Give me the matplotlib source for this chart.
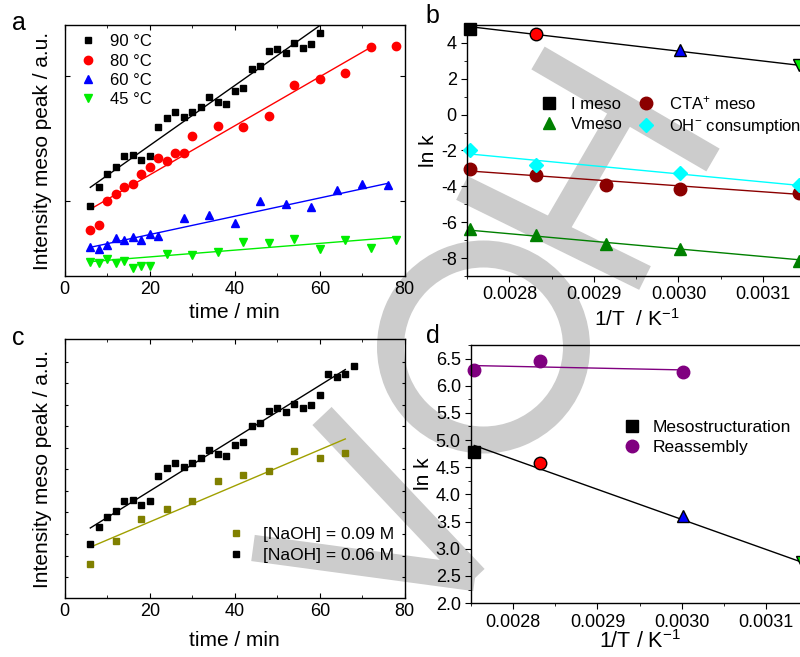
import matplotlib
matplotlib.use("Agg")
import matplotlib.pyplot as plt
from matplotlib.patches import Annulus
import numpy as np

plt.rcParams.update({
    'font.family': ['Liberation Sans', 'DejaVu Sans'],
    'font.size': 13,
    'axes.linewidth': 1.0,
    'mathtext.default': 'regular',
})

# ---------- panel a : intensity vs time at four temperatures ----------
t90 = [6, 8, 10, 12, 14, 16, 18, 20, 22, 24, 26, 28, 30, 32, 34, 36, 38, 40,
       42, 44, 46, 48, 50, 52, 54, 56, 58, 60]
i90 = [27.9, 35.3, 40.5, 43.3, 47.8, 48.2, 46.0, 47.9, 59.4, 62.9, 65.3, 63.5,
       65.3, 67.5, 71.3, 69.3, 68.7, 73.7, 75.0, 82.3, 83.8, 89.5, 90.4, 89.0,
       92.7, 91.0, 92.4, 96.8]
t80 = [6, 8, 10, 12, 14, 16, 18, 20, 22, 24, 26, 28, 30, 36, 42, 48, 54, 60,
       66, 72, 78]
i80 = [18.3, 20.2, 29.7, 32.8, 35.5, 36.5, 40.6, 43.4, 47.1, 45.8, 49.1, 49.0,
       55.6, 59.9, 59.5, 63.6, 76.0, 78.4, 80.7, 91.1, 91.8]
t60 = [6, 8, 10, 12, 14, 16, 18, 20, 22, 28, 34, 40, 46, 52, 58, 64, 70, 76]
i60 = [11.4, 10.6, 12.5, 15.3, 14.3, 15.4, 14.3, 16.6, 15.9, 23.1, 24.2, 21.1,
       30.0, 28.6, 27.4, 34.4, 36.5, 36.3]
t45 = [6, 8, 10, 12, 14, 16, 18, 20, 24, 30, 36, 42, 48, 54, 60, 66, 72, 78]
i45 = [5.7, 5.3, 6.9, 5.3, 5.8, 3.3, 4.1, 4.1, 8.9, 8.5, 9.6, 13.5, 13.3, 14.6,
       10.6, 14.3, 11.0, 14.5]
# fitted lines (start/end)
fit90_t, fit90_i = [6, 60.2], [35.3, 100.0]
fit80_t, fit80_i = [6, 72], [26.6, 91.1]
fit60_t, fit60_i = [6, 76], [11.4, 36.9]
fit45_t, fit45_i = [6, 78], [5.7, 15.4]

# ---------- panel b : Arrhenius plots ----------
invT_all = [0.0027537, 0.0028317, 0.0029142, 0.0030017, 0.0031432]
invT_4 = [0.0027537, 0.0028317, 0.0030017, 0.0031432]
lnk_imeso = [4.8, 4.5, 3.6, 2.75]
lnk_cta = [-3.04, -3.36, -3.91, -4.16, -4.4]
lnk_oh = [-1.98, -2.8, -3.28, -3.9]
lnk_oh_x = [0.0027537, 0.0028317, 0.0030017, 0.0031432]
lnk_vmeso = [-6.4, -6.7, -7.2, -7.5, -8.15]
fitb_x = [0.0027537, 0.0031432]
fitb_imeso = [4.9, 2.75]
fitb_cta = [-3.15, -4.45]
fitb_oh = [-2.2, -3.95]
fitb_vmeso = [-6.45, -8.1]

# ---------- panel c : two NaOH concentrations ----------
t06 = [6, 8, 10, 12, 14, 16, 18, 20, 22, 24, 26, 28, 30, 32, 34, 36, 38, 40,
       42, 44, 46, 48, 50, 52, 54, 56, 58, 60, 62, 64, 66, 68]
i06 = [20.8, 27.2, 31.4, 33.7, 37.5, 37.8, 35.9, 37.6, 47.1, 50.2, 52.1, 50.6,
       52.1, 53.9, 57.0, 55.5, 54.8, 59.1, 60.2, 66.3, 67.4, 72.3, 73.2, 71.8,
       74.9, 73.4, 74.6, 78.2, 86.4, 85.3, 86.6, 89.4]
t09 = [6, 12, 18, 24, 30, 36, 42, 48, 54, 60, 66]
i09 = [13.1, 21.9, 30.4, 34.2, 37.5, 45.2, 47.4, 48.9, 56.6, 53.9, 56.1]
fit06_t, fit06_i = [6, 66], [27.0, 88.2]
fit09_t, fit09_i = [6, 66], [19.6, 61.4]

# ---------- panel d : mesostructuration vs reassembly ----------
invT_d = [0.0027537, 0.0028317, 0.0030017, 0.0031432]
lnk_meso_d = [4.78, 4.58, 3.6, 2.75]
lnk_reas = [6.28, 6.45, 6.25]
fitd_meso = [4.9, 2.75]
fitd_reas_x = [0.0027537, 0.0030017]
fitd_reas = [6.37, 6.29]

# publisher watermark behind the panels (pixel strokes, not data)
wm_strokes = [[(538, 58), (713, 160)], [(462, 188), (645, 278)],
              [(625, 109), (553, 233)], [(322, 416), (475, 578)],
              [(253, 548), (475, 578)]]
wm_ring = (483.5, 347, 106.5)
wm_color = '#cccccc'

fig = plt.figure(figsize=(8, 6.57), dpi=100)

bg = fig.add_axes([0, 0, 1, 1], zorder=-1)
bg.set_xlim(0, 800)
bg.set_ylim(657, 0)
bg.axis('off')
for (x0, y0), (x1, y1) in wm_strokes:
    bg.plot([x0, x1], [y0, y1], color=wm_color, lw=19, solid_capstyle='butt')
bg.add_patch(Annulus(wm_ring[:2], wm_ring[2], 27, color=wm_color, lw=0))

ax_a = fig.add_axes([0.081, 0.580, 0.425, 0.382])
ax_b = fig.add_axes([0.584, 0.580, 0.4225, 0.382])
ax_c = fig.add_axes([0.081, 0.090, 0.425, 0.394])
ax_d = fig.add_axes([0.589, 0.082, 0.421, 0.393])
for ax in (ax_a, ax_b, ax_c, ax_d):
    ax.set_facecolor('none')

leg_kw = dict(frameon=False, borderpad=0, borderaxespad=0, handlelength=1.0)

# panel a
ms = 5
ax_a.plot(fit90_t, fit90_i, color='black', lw=1)
ax_a.plot(fit80_t, fit80_i, color='red', lw=1)
ax_a.plot(fit60_t, fit60_i, color='blue', lw=1)
ax_a.plot(fit45_t, fit45_i, color='#00ee00', lw=1)
ax_a.plot(t90, i90, 's', color='black', ms=ms, label='90 °C')
ax_a.plot(t80, i80, 'o', color='red', ms=ms + 1, label='80 °C')
ax_a.plot(t60, i60, '^', color='blue', ms=ms + 1, label='60 °C')
ax_a.plot(t45, i45, 'v', color='#00ee00', ms=ms + 1, label='45 °C')
ax_a.set_xlim(0, 80)
ax_a.set_ylim(0, 100)
ax_a.set_xticks([0, 20, 40, 60, 80])
ax_a.set_xticks([10, 30, 50, 70], minor=True)
ax_a.set_yticks([29.9, 79.7])
ax_a.set_yticklabels([])
ax_a.tick_params(which='both', direction='in', top=True, right=True)
ax_a.set_xlabel('time / min', fontsize=15, labelpad=4)
ax_a.set_ylabel('Intensity meso peak / a.u.', fontsize=15, labelpad=6)
ax_a.legend(loc='upper left', bbox_to_anchor=(0.043, 0.963), fontsize=12,
            handletextpad=0.82, labelspacing=0.26, **leg_kw)

# panel b
ax_b.plot(fitb_x, fitb_imeso, color='black', lw=1)
ax_b.plot(fitb_x, fitb_cta, color='#8b0000', lw=1)
ax_b.plot(fitb_x, fitb_oh, color='cyan', lw=1)
ax_b.plot(fitb_x, fitb_vmeso, color='green', lw=1)
mk_b = ['s', 'o', '^', 'v']
col_b = ['black', 'red', 'blue', '#00ee00']
for x, y, m, c in zip(invT_4, lnk_imeso, mk_b, col_b):
    ax_b.plot(x, y, m, color=c, mec='black', ms=9, clip_on=False, zorder=4)
ax_b.plot([], [], 's', color='black', ms=9, label='I meso')
ax_b.plot(invT_all, lnk_cta, 'o', color='#8b0000', ms=9, clip_on=False,
          label='CTA$^{+}$ meso')
ax_b.plot(lnk_oh_x, lnk_oh, 'D', color='cyan', ms=7.5, clip_on=False,
          label='OH$^{-}$ consumption')
ax_b.plot(invT_all, lnk_vmeso, '^', color='green', ms=9, clip_on=False,
          label='Vmeso')
hb, lb = ax_b.get_legend_handles_labels()
order = [0, 3, 1, 2]
ax_b.legend([hb[i] for i in order], [lb[i] for i in order], ncol=2,
            loc='upper left', bbox_to_anchor=(0.216, 0.725), fontsize=12,
            columnspacing=0.9, handletextpad=0.85, labelspacing=0.3,
            **leg_kw)
ax_b.set_xlim(0.00275, 0.00315)
ax_b.set_ylim(-9, 5)
ax_b.set_xticks([0.0028, 0.0029, 0.0030, 0.0031])
ax_b.set_xticklabels(['0.0028', '0.0029', '0.0030', '0.0031'])
ax_b.set_xticks(np.arange(0.00275, 0.00316, 0.00005), minor=True)
ax_b.set_yticks(np.arange(-8, 5, 2))
ax_b.set_yticklabels(['-8', '-6', '-4', '-2', '0', '2', '4'])
ax_b.set_yticks(np.arange(-9, 5.5, 1), minor=True)
ax_b.tick_params(which='both', direction='out', top=False, right=False)
ax_b.tick_params(which='major', length=4)
ax_b.tick_params(which='minor', length=2.5)
ax_b.set_xlabel('1/T  / K$^{-1}$', fontsize=15, labelpad=3)
ax_b.set_ylabel('ln k', fontsize=15, labelpad=2)

# panel c
ax_c.plot(fit06_t, fit06_i, color='black', lw=1)
ax_c.plot(fit09_t, fit09_i, color='#a0a000', lw=1)
ax_c.plot(t09, i09, 's', color='#808000', ms=5, label='[NaOH] = 0.09 M')
ax_c.plot(t06, i06, 's', color='black', ms=5, label='[NaOH] = 0.06 M')
ax_c.set_xlim(0, 80)
ax_c.set_ylim(0, 100)
ax_c.set_xticks([0, 20, 40, 60, 80])
ax_c.set_xticks([10, 30, 50, 70], minor=True)
ax_c.set_yticks(np.arange(8.0, 99, 8.33))
ax_c.set_yticklabels([])
ax_c.tick_params(which='both', direction='in', top=True, right=True)
ax_c.tick_params(axis='y', length=2.5)
ax_c.set_xlabel('time / min', fontsize=15, labelpad=8)
ax_c.set_ylabel('Intensity meso peak / a.u.', fontsize=15, labelpad=6)
ax_c.legend(loc='upper left', bbox_to_anchor=(0.477, 0.275), fontsize=12.5,
            handletextpad=1.05, labelspacing=0.35, **leg_kw)

# panel d
ax_d.plot(fitb_x, fitd_meso, color='black', lw=1)
ax_d.plot(fitd_reas_x, fitd_reas, color='#800080', lw=1)
for x, y, m, c in zip(invT_d, lnk_meso_d, mk_b, col_b):
    ax_d.plot(x, y, m, color=c, mec='black', ms=9, clip_on=False, zorder=4)
ax_d.plot([], [], 's', color='black', ms=8, label='Mesostructuration')
ax_d.plot(invT_d[:3], lnk_reas, 'o', color='#800080', ms=9, clip_on=False,
          label='Reassembly')
ax_d.set_xlim(0.00275, 0.00315)
ax_d.set_ylim(2.0, 6.75)
ax_d.set_xticks([0.0028, 0.0029, 0.0030, 0.0031])
ax_d.set_xticklabels(['0.0028', '0.0029', '0.0030', '0.0031'])
ax_d.set_xticks(np.arange(0.00275, 0.00316, 0.00005), minor=True)
ax_d.set_yticks(np.arange(2.0, 6.6, 0.5))
ax_d.set_yticklabels(['%.1f' % v for v in np.arange(2.0, 6.6, 0.5)])
ax_d.set_yticks(np.arange(2.0, 6.8, 0.25), minor=True)
ax_d.tick_params(which='both', direction='out', top=False, right=False)
ax_d.tick_params(which='major', length=4)
ax_d.tick_params(which='minor', length=2.5)
ax_d.set_xlabel('1/T / K$^{-1}$', fontsize=15.5, labelpad=0)
ax_d.set_ylabel('ln k', fontsize=15, labelpad=2)
ax_d.legend(loc='upper left', bbox_to_anchor=(0.451, 0.71), fontsize=12.5,
            handletextpad=0.7, labelspacing=0.3, **leg_kw)

for lab, (x, y) in zip('abcd', [(0.015, 0.965), (0.532, 0.975),
                                (0.015, 0.485), (0.532, 0.488)]):
    fig.text(x, y, lab, fontsize=18, ha='left', va='center')

fig.savefig('out.png', dpi=100)
